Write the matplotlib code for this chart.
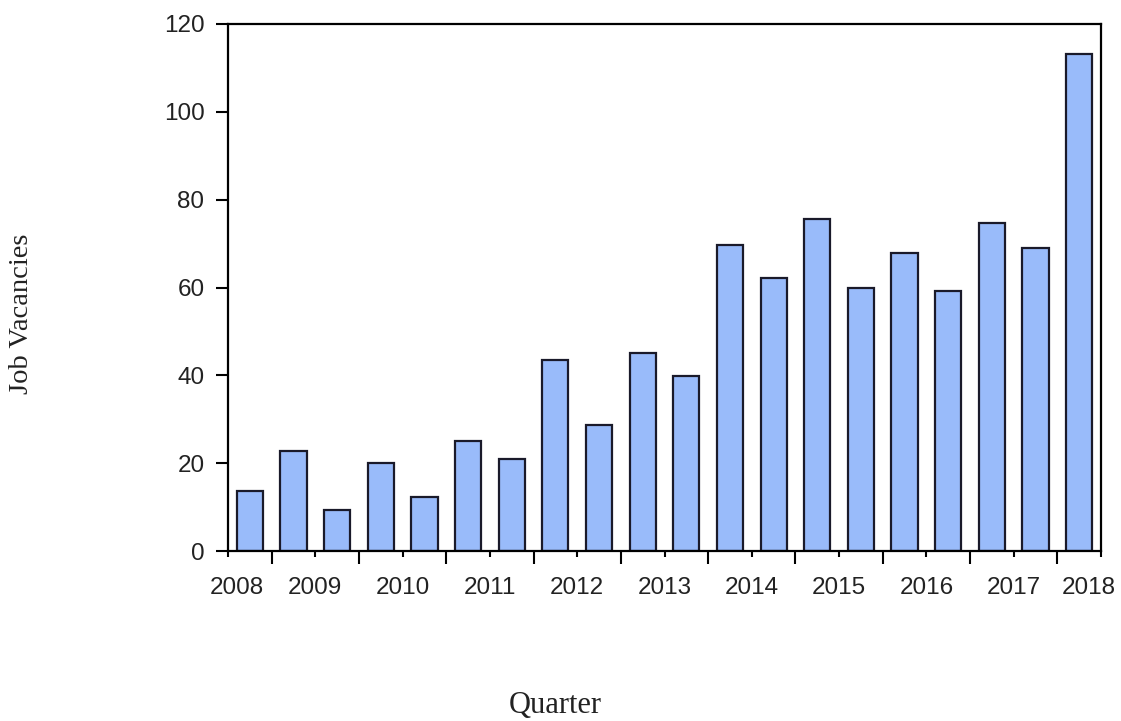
import matplotlib
matplotlib.use("Agg")
import matplotlib.pyplot as plt
import matplotlib.transforms as mtransforms
import numpy as np

# Data (semi-annual observations, 2008-2017)
values = [13.7, 22.8, 9.3, 20.1, 12.3, 25.0, 21.0, 43.4, 28.8, 45.1,
          39.9, 69.6, 62.2, 75.7, 60.0, 67.9, 59.2, 74.8, 69.1, 113.1]
year_labels = ["2008", "2009", "2010", "2011", "2012", "2013",
               "2014", "2015", "2016", "2017", "2018"]
y_ticks = [0, 20, 40, 60, 80, 100, 120]

fig = plt.figure(figsize=(11.21, 7.21), dpi=100)
ax = fig.add_axes([228/1121, 1 - 551/721, (1101-228)/1121, (551-24)/721])

x = np.arange(len(values))
ax.bar(x, values, width=0.6, color="#99BBFA", edgecolor="#1a1a2a", linewidth=1.6, zorder=2)

ax.set_xlim(-0.5, len(values) - 0.5)
ax.set_ylim(0, 120)

for s in ax.spines.values():
    s.set_linewidth(1.6)
    s.set_color("black")

# y ticks
ax.set_yticks(y_ticks)
ax.set_yticklabels([str(v) for v in y_ticks], fontfamily="Liberation Sans", fontsize=17.5, color="#222222")
ax.tick_params(axis="y", direction="out", length=9, width=1.5, pad=8)

# x ticks: long (major) at odd boundaries, short (minor) labeled at even boundaries
n = len(values)
bounds = np.arange(n + 1) - 0.5
major_pos = bounds[1::2]
minor_pos = bounds[0::2]
ax.set_xticks(major_pos)
ax.set_xticklabels([""] * len(major_pos))
ax.set_xticks(minor_pos, minor=True)
ax.set_xticklabels(year_labels, minor=True, fontfamily="Liberation Sans", fontsize=17.5, color="#222222")
ax.tick_params(axis="x", which="major", direction="out", length=9, width=1.5)
ax.tick_params(axis="x", which="minor", direction="out", length=4.5, width=1.5, pad=14)

lbls = ax.get_xticklabels(minor=True)
lbls[0].set_transform(lbls[0].get_transform() + mtransforms.ScaledTranslation(9/100, 0, fig.dpi_scale_trans))
lbls[-1].set_transform(lbls[-1].get_transform() + mtransforms.ScaledTranslation(-12/100, 0, fig.dpi_scale_trans))

fig.text(22/1121, 1 - 314/721, "Job Vacancies", rotation=90, ha="center", va="center",
         fontfamily="Liberation Serif", fontsize=20.5, color="#222222")
fig.text(555/1121, 1 - 705/721, "Quarter", ha="center", va="center",
         fontfamily="Liberation Serif", fontsize=22, color="#222222")

fig.savefig("out.png", dpi=100)
